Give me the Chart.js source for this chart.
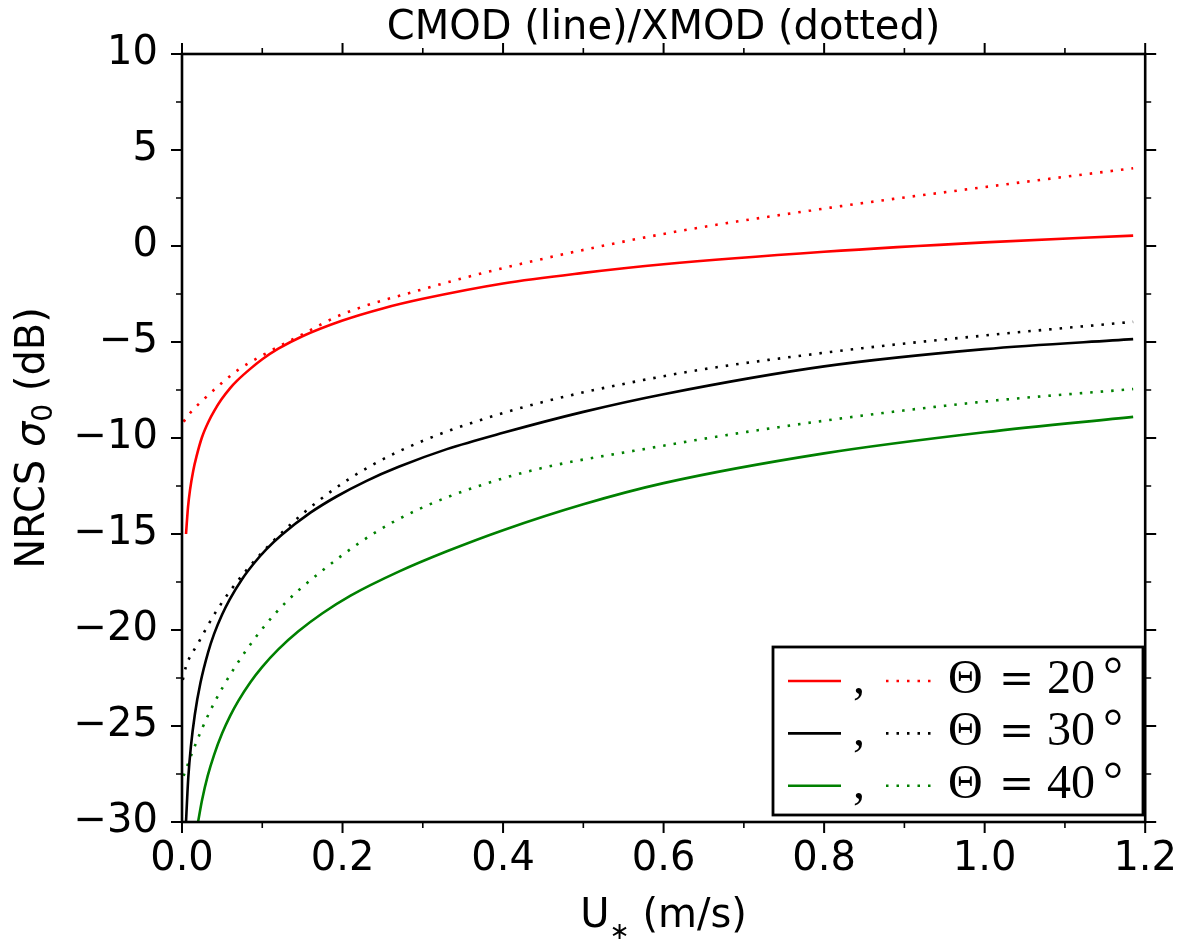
<!DOCTYPE html>
<html>
<head>
<meta charset="utf-8">
<script src="https://cdn.jsdelivr.net/npm/chart.js@4"></script>
<style>
  html, body { margin: 0; padding: 0; background: #fff; }
</style>
</head>
<body>
<canvas id="chart" width="1191" height="940"></canvas>
<script>
// --- DATOS ---
const xTicks = [0.0, 0.2, 0.4, 0.6, 0.8, 1.0, 1.2];
const yTicks = [-30, -25, -20, -15, -10, -5, 0, 5, 10];
const xMinor = [0.1, 0.3, 0.5, 0.7, 0.9, 1.1];
const yMinor = [-27.5, -22.5, -17.5, -12.5, -7.5, -2.5, 2.5, 7.5];

const legendLabels = ["20", "30", "40"];

// CMOD 20 (rojo, línea)
const uRedLine = [0.005, 0.0075, 0.01, 0.014, 0.018, 0.025, 0.033, 0.04, 0.049, 0.06, 0.069, 0.085, 0.1, 0.12, 0.15, 0.2, 0.25, 0.3, 0.4, 0.5, 0.6, 0.8, 1.0, 1.185];
const redLine = [-15.0, -13.6, -12.7, -11.7, -10.97, -9.95, -9.15, -8.6, -8.0, -7.4, -7.0, -6.4, -5.9, -5.35, -4.7, -3.88, -3.25, -2.75, -1.95, -1.4, -0.95, -0.3, 0.19, 0.54];
// XMOD 20 (rojo, punteado)
const uRedDot = [0.002, 0.01, 0.0285, 0.048, 0.07, 0.1, 0.15, 0.2, 0.3, 0.4, 0.6, 0.8, 1.0, 1.185];
const redDot = [-9.15, -8.7, -7.93, -7.19, -6.45, -5.7, -4.6, -3.55, -2.25, -1.15, 0.63, 1.95, 3.07, 4.05];
// CMOD 30 (negro, línea)
const uBlackLine = [0.005, 0.0065, 0.0078, 0.011, 0.016, 0.023, 0.0326, 0.04, 0.05, 0.0595, 0.075, 0.09, 0.105, 0.124, 0.16, 0.192, 0.23, 0.27, 0.33, 0.4, 0.5, 0.6, 0.8, 1.0, 1.185];
const blackLine = [-30, -28.7, -27.7, -26.1, -24.4, -22.75, -21.15, -20.2, -19.19, -18.4, -17.34, -16.51, -15.8, -15.05, -13.89, -13.06, -12.23, -11.5, -10.58, -9.73, -8.64, -7.72, -6.27, -5.37, -4.85];
// XMOD 30 (negro, punteado)
const uBlackDot = [0.001, 0.005, 0.02, 0.043, 0.082, 0.138, 0.2, 0.27, 0.4, 0.6, 0.8, 1.0, 1.185];
const blackDot = [-22.6, -21.9, -20.7, -19.0, -16.8, -14.4, -12.36, -10.7, -8.7, -6.78, -5.56, -4.66, -3.95];
// CMOD 40 (verde, línea)
const uGreenLine = [0.02, 0.025, 0.032, 0.04, 0.05, 0.06, 0.07, 0.085, 0.1, 0.12, 0.145, 0.175, 0.21, 0.27, 0.33, 0.4, 0.5, 0.6, 0.8, 1.0, 1.185];
const greenLine = [-30, -28.85, -27.6, -26.5, -25.38, -24.47, -23.7, -22.73, -21.92, -21.01, -20.07, -19.13, -18.21, -16.96, -15.9, -14.8, -13.45, -12.35, -10.8, -9.7, -8.9];
// XMOD 40 (verde, punteado)
const uGreenDot = [0.002, 0.014, 0.0347, 0.068, 0.117, 0.175, 0.262, 0.4, 0.6, 0.8, 1.0, 1.185];
const greenDot = [-27.6, -26.25, -24.25, -21.8, -19.1, -16.9, -14.4, -12.1, -10.4, -9.1, -8.1, -7.45];

const RED = "#ff0000";
const BLACK = "#000000";
const GREEN = "#008000";
const DOTS = [2.5, 8];

const toPoints = (us, vs) => us.map((u, i) => ({ x: u, y: vs[i] }));

const makeSet = (us, vs, color, dotted) => ({
  data: toPoints(us, vs),
  borderColor: color,
  borderWidth: 2.6,
  borderDash: dotted ? DOTS : [],
  borderCapStyle: "butt",
  cubicInterpolationMode: "monotone",
  pointRadius: 0,
  fill: false,
});

const datasets = [
  makeSet(uRedLine, redLine, RED, false),
  makeSet(uRedDot, redDot, RED, true),
  makeSet(uBlackLine, blackLine, BLACK, false),
  makeSet(uBlackDot, blackDot, BLACK, true),
  makeSet(uGreenLine, greenLine, GREEN, false),
  makeSet(uGreenDot, greenDot, GREEN, true),
];

const SANS = "'DejaVu Sans', sans-serif";
const SERIF = "'Liberation Serif', serif";

// dibuja un texto con trozos (subíndices, cursiva)
const drawRuns = (ctx, runs, x, y) => {
  let cx = x;
  runs.forEach((r) => {
    ctx.font = r.font;
    ctx.fillText(r.text, cx, y + (r.dy || 0));
    cx += ctx.measureText(r.text).width;
  });
};
const runsWidth = (ctx, runs) =>
  runs.reduce((w, r) => {
    ctx.font = r.font;
    return w + ctx.measureText(r.text).width;
  }, 0);

// --- MARCO, TICKS, TÍTULOS Y LEYENDA ---
const frameAndText = {
  id: "frameAndText",
  afterDraw(chart) {
    const ctx = chart.ctx;
    const { left, right, top, bottom } = chart.chartArea;
    const xs = chart.scales.x;
    const ys = chart.scales.y;
    ctx.save();
    ctx.strokeStyle = "#000";
    ctx.fillStyle = "#000";

    // ticks (hacia fuera, en los cuatro lados)
    const tickX = (vals, len) => {
      vals.forEach((v) => {
        const p = xs.getPixelForValue(v);
        ctx.moveTo(p, bottom);
        ctx.lineTo(p, bottom + len);
        ctx.moveTo(p, top);
        ctx.lineTo(p, top - len);
      });
    };
    const tickY = (vals, len) => {
      vals.forEach((v) => {
        const p = ys.getPixelForValue(v);
        ctx.moveTo(left, p);
        ctx.lineTo(left - len, p);
        ctx.moveTo(right, p);
        ctx.lineTo(right + len, p);
      });
    };
    ctx.lineWidth = 2;
    ctx.beginPath();
    tickX(xTicks, 11);
    tickY(yTicks, 11);
    ctx.stroke();
    ctx.lineWidth = 1.6;
    ctx.beginPath();
    tickX(xMinor, 6);
    tickY(yMinor, 6);
    ctx.stroke();

    ctx.lineWidth = 2.6;
    ctx.strokeRect(left, top, right - left, bottom - top);

    // título
    ctx.textAlign = "center";
    ctx.textBaseline = "alphabetic";
    ctx.font = "40px " + SANS;
    ctx.fillText("CMOD (line)/XMOD (dotted)", (left + right) / 2, 39);

    // etiqueta eje x
    ctx.textAlign = "left";
    const xRuns = [
      { text: "U", font: "40px " + SANS },
      { text: "\u2217", font: "24px " + SANS, dy: 12 },
      { text: " (m/s)", font: "40px " + SANS },
    ];
    drawRuns(ctx, xRuns, (left + right) / 2 - runsWidth(ctx, xRuns) / 2, 927);

    // etiqueta eje y
    const yRuns = [
      { text: "NRCS ", font: "40px " + SANS },
      { text: "\u03c3", font: "italic 40px " + SANS },
      { text: "0", font: "28px " + SANS, dy: 8 },
      { text: " (dB)", font: "40px " + SANS },
    ];
    ctx.save();
    ctx.translate(44, (top + bottom) / 2);
    ctx.rotate(-Math.PI / 2);
    drawRuns(ctx, yRuns, -runsWidth(ctx, yRuns) / 2, 0);
    ctx.restore();

    // leyenda
    const bx = 773, by = 647, bw = 370, bh = 168;
    ctx.fillStyle = "#fff";
    ctx.fillRect(bx, by, bw, bh);
    ctx.lineWidth = 2.8;
    ctx.strokeRect(bx, by, bw, bh);
    const colors = [RED, BLACK, GREEN];
    legendLabels.forEach((lab, i) => {
      const ly = 681 + i * 52.4;
      ctx.lineWidth = 2.6;
      ctx.strokeStyle = colors[i];
      ctx.setLineDash([]);
      ctx.beginPath();
      ctx.moveTo(788, ly);
      ctx.lineTo(841, ly);
      ctx.stroke();
      ctx.setLineDash(DOTS);
      ctx.beginPath();
      ctx.moveTo(886, ly);
      ctx.lineTo(934, ly);
      ctx.stroke();
      ctx.setLineDash([]);
      ctx.fillStyle = "#000";
      const base = ly + 12;
      ctx.font = "48px " + SERIF;
      ctx.fillText(",", 853, base);
      ctx.fillText("\u0398", 948, base);
      ctx.fillText(lab, 1047, base);
      ctx.font = "42px 'DejaVu Serif', serif";
      ctx.fillText("=", 999, base);
      ctx.font = "50px " + SERIF;
      ctx.fillText("\u00b0", 1103, base - 2);
    });
    ctx.restore();
  },
};

const fmtY = (v) => (v < 0 ? "\u2212" + Math.abs(v) : String(v));

new Chart(document.getElementById("chart"), {
  type: "line",
  data: { datasets },
  options: {
    responsive: false,
    animation: false,
    layout: { padding: { left: 0, right: 41, top: 54, bottom: 0 } },
    plugins: {
      legend: { display: false },
      title: { display: false },
      tooltip: { enabled: false },
    },
    scales: {
      x: {
        type: "linear",
        min: 0,
        max: 1.2,
        afterBuildTicks: (s) => {
          s.ticks = xTicks.map((v) => ({ value: v }));
        },
        afterFit: (s) => {
          s.height = 118;
        },
        grid: { display: false, drawTicks: false },
        border: { display: false },
        ticks: {
          color: "#000",
          padding: 14,
          maxRotation: 0,
          autoSkip: false,
          font: { family: SANS, size: 40 },
          callback: (v) => Number(v).toFixed(1),
        },
      },
      y: {
        type: "linear",
        min: -30,
        max: 10,
        afterBuildTicks: (s) => {
          s.ticks = yTicks.map((v) => ({ value: v }));
        },
        afterFit: (s) => {
          s.width = 182;
        },
        grid: { display: false, drawTicks: false },
        border: { display: false },
        ticks: {
          color: "#000",
          padding: 24,
          autoSkip: false,
          font: { family: SANS, size: 40 },
          callback: (v) => fmtY(v),
        },
      },
    },
  },
  plugins: [frameAndText],
});
</script>
</body>
</html>
